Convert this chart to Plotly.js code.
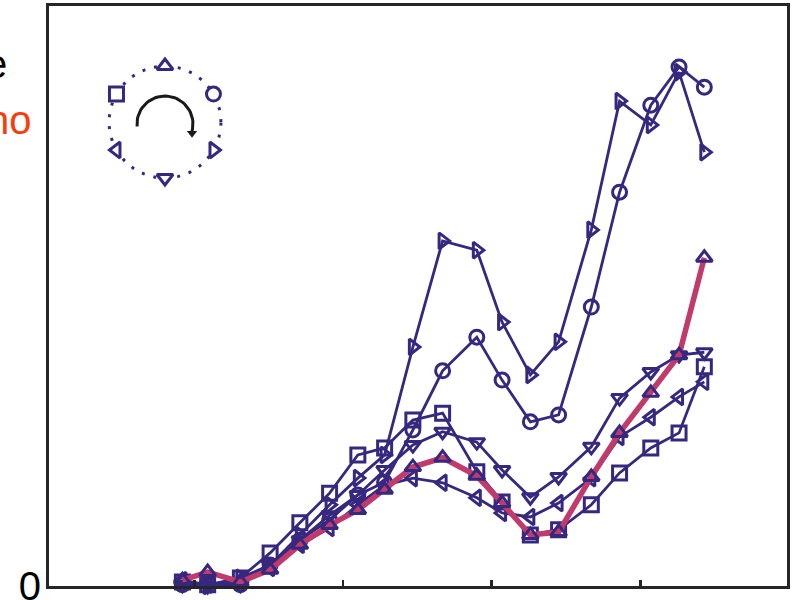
<!DOCTYPE html>
<html>
<head>
<meta charset="utf-8">
<script src="https://cdn.plot.ly/plotly-3.0.1.min.js"></script>
<style>html,body{margin:0;padding:0;background:#fff;}#chart{width:796px;height:600px;}</style>
</head>
<body>
<div id="chart"></div>
<script>
// shared x positions (axis units; ticks at 0,1,2,3)
const xVals = [-0.08, 0.09, 0.31, 0.51, 0.71, 0.91, 1.10, 1.28, 1.47, 1.67, 1.90, 2.07, 2.26, 2.45, 2.67, 2.86, 3.07, 3.26, 3.43];

// series values
const triUp    = [0.10, 0.24, 0.07, 0.28, 0.71, 1.05, 1.31, 1.66, 2.05, 2.21, 1.90, 1.43, 0.88, 0.93, 1.88, 2.64, 3.33, 3.98, 5.66];
const circle   = [0.02, 0.05, 0.02, 0.36, 0.79, 1.14, 1.57, 1.79, 2.69, 3.71, 4.29, 3.55, 2.83, 2.95, 4.81, 6.79, 8.29, 8.95, 8.60];
const triRight = [0.05, 0.00, 0.14, 0.36, 0.88, 1.40, 1.86, 2.26, 4.12, 5.95, 5.79, 4.55, 3.64, 4.21, 6.14, 8.36, 7.95, 8.86, 7.48];
const square   = [0.07, 0.02, 0.14, 0.57, 1.09, 1.60, 2.26, 2.38, 2.86, 2.98, 1.97, 1.45, 0.88, 0.97, 1.40, 1.95, 2.38, 2.64, 3.78];
const triDown  = [0.02, 0.00, 0.02, 0.36, 0.79, 1.22, 1.57, 2.00, 2.43, 2.66, 2.48, 2.00, 1.53, 1.88, 2.40, 3.24, 3.69, 3.98, 4.03];
const triLeft  = [0.10, 0.02, 0.10, 0.31, 0.71, 1.00, 1.40, 1.74, 1.86, 1.78, 1.52, 1.26, 1.19, 1.43, 1.86, 2.57, 2.91, 3.26, 3.52];

const xTicks = [0, 1, 2, 3];
const yTickVals = [0];
const yTickText = ['0'];

// legend-key order around the hexagon (angle in degrees)
const keySymbols = ['triangle-up', 'circle', 'triangle-right', 'triangle-down', 'triangle-left', 'square'];
const keyAngles  = [90, 30, -30, -90, -150, 150];

const PURPLE = '#37287f';
const MAGENTA = '#c23a6c';
const FRAME = '#262626';
const CLEAR = 'rgba(255,255,255,0)';
const MSIZE = 14, MLW = 3;

function series(y, sym) {
  return {
    x: xVals, y: y, type: 'scatter', mode: 'lines+markers',
    line: {color: PURPLE, width: 2.8},
    marker: {symbol: sym, size: MSIZE, color: CLEAR, line: {color: PURPLE, width: MLW}},
    hoverinfo: 'skip', showlegend: false, cliponaxis: false
  };
}

const data = [
  series(square, 'square'),
  series(triLeft, 'triangle-left'),
  series(triDown, 'triangle-down'),
  series(circle, 'circle'),
  series(triRight, 'triangle-right'),
  {
    x: xVals, y: triUp, type: 'scatter', mode: 'lines',
    line: {color: MAGENTA, width: 5.5}, hoverinfo: 'skip', showlegend: false, cliponaxis: false
  },
  {
    x: xVals, y: triUp, type: 'scatter', mode: 'markers',
    marker: {symbol: 'triangle-up', size: MSIZE, color: CLEAR, line: {color: PURPLE, width: MLW}},
    hoverinfo: 'skip', showlegend: false, cliponaxis: false
  }
];

// inset key: dotted ring, symbols, and a curved arrow
const R = 56;
const ringX = [], ringY = [];
for (let a = 0; a <= 360; a += 4) { ringX.push(R * Math.cos(a * Math.PI / 180)); ringY.push(R * Math.sin(a * Math.PI / 180)); }
data.push({x: ringX, y: ringY, xaxis: 'x2', yaxis: 'y2', type: 'scatter', mode: 'lines',
  line: {color: PURPLE, width: 3, dash: '3px,9px'}, hoverinfo: 'skip', showlegend: false});
data.push({
  x: keyAngles.map(a => R * Math.cos(a * Math.PI / 180)),
  y: keyAngles.map(a => R * Math.sin(a * Math.PI / 180)),
  xaxis: 'x2', yaxis: 'y2', type: 'scatter', mode: 'markers',
  marker: {symbol: keySymbols, size: MSIZE, color: '#fff', line: {color: PURPLE, width: MLW}},
  hoverinfo: 'skip', showlegend: false, cliponaxis: false
});
const ar = 28, arcX = [], arcY = [];
for (let a = 185; a >= -15; a -= 5) { arcX.push(ar * Math.cos(a * Math.PI / 180)); arcY.push(-2 + ar * Math.sin(a * Math.PI / 180)); }
data.push({x: arcX, y: arcY, xaxis: 'x2', yaxis: 'y2', type: 'scatter', mode: 'lines',
  line: {color: '#1a1a1a', width: 3}, hoverinfo: 'skip', showlegend: false});
data.push({x: [arcX[arcX.length - 1]], y: [arcY[arcY.length - 1] - 2], xaxis: 'x2', yaxis: 'y2', type: 'scatter', mode: 'markers',
  marker: {symbol: 'triangle-down', size: 9, color: '#1a1a1a'}, hoverinfo: 'skip', showlegend: false, cliponaxis: false});

const layout = {
  width: 796, height: 600,
  margin: {l: 49, r: 9, t: 6, b: 14, pad: 0},
  paper_bgcolor: '#fff', plot_bgcolor: '#fff',
  font: {family: 'Liberation Sans, Arial, sans-serif', color: '#000'},
  showlegend: false,
  xaxis: {
    range: [-0.977, 3.986], tickvals: xTicks, showticklabels: false,
    ticks: 'inside', ticklen: 6, tickwidth: 2.5, tickcolor: FRAME,
    showgrid: false, zeroline: false, showline: true, linecolor: FRAME, linewidth: 3, mirror: true
  },
  yaxis: {
    range: [0, 10], tickvals: yTickVals, ticktext: yTickText, ticks: '',
    ticklabeloverflow: 'allow', ticklabelstandoff: -3,
    tickfont: {size: 40, color: '#000', family: 'Liberation Sans, Arial, sans-serif'},
    showgrid: false, zeroline: false, showline: true, linecolor: FRAME, linewidth: 3, mirror: true
  },
  xaxis2: {domain: [0.0623, 0.2520], range: [-70, 70], visible: false, anchor: 'y2', fixedrange: true},
  yaxis2: {domain: [0.6741, 0.9241], range: [-73, 72], visible: false, anchor: 'x2', fixedrange: true},
  annotations: [
    {xref: 'paper', yref: 'paper', x: -0.0542, y: 0.900, xanchor: 'right', yanchor: 'middle', showarrow: false,
     text: 'e', font: {size: 40, color: '#000'}},
    {xref: 'paper', yref: 'paper', x: -0.0203, y: 0.804, xanchor: 'right', yanchor: 'middle', showarrow: false,
     text: 'no', font: {size: 40, color: '#fa3c0a'}}
  ]
};

Plotly.newPlot('chart', data, layout, {displayModeBar: false, staticPlot: true});
</script>
</body>
</html>
